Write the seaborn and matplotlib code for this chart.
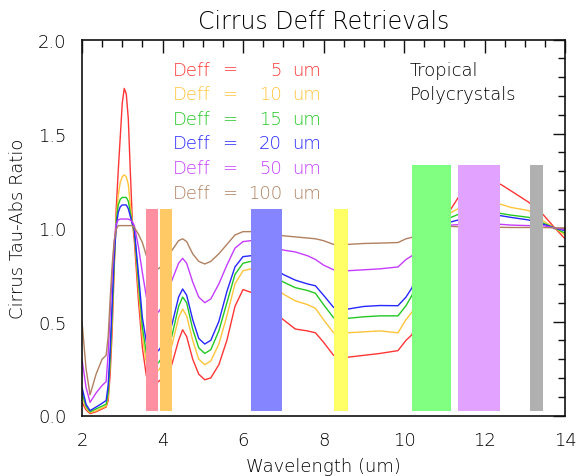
import numpy as np
import pandas as pd
import matplotlib
matplotlib.use("Agg")
import matplotlib.pyplot as plt
from matplotlib.ticker import MultipleLocator
import seaborn as sns

# ---------------- data ----------------
wavelength = [2.0, 2.1, 2.2, 2.35, 2.5, 2.6, 2.65, 2.7, 2.75, 2.8, 2.85, 2.9, 2.95, 3.0, 3.05,
              3.1, 3.15, 3.2, 3.25, 3.3, 3.4, 3.5, 3.6, 3.75, 3.9, 4.05, 4.23, 4.4, 4.5, 4.6,
              4.75, 4.9, 5.05, 5.2, 5.4, 5.6, 5.8, 6.0, 6.2, 6.6, 7.0, 7.3, 7.6, 7.8, 8.0,
              8.25, 8.6, 9.0, 9.4, 9.85, 10.05, 10.2, 10.5, 10.8, 11.17, 11.35, 11.8, 12.4,
              12.65, 13.1, 13.45, 13.75, 14.0]

deff_5 = [0.07, 0.03, 0.01, 0.02, 0.035, 0.045, 0.08, 0.22, 0.45, 0.78, 1.10, 1.30, 1.48, 1.66, 1.74,
          1.71, 1.58, 1.30, 1.04, 0.93, 0.62, 0.36, 0.21, 0.17, 0.18, 0.21, 0.27, 0.40, 0.456, 0.42,
          0.30, 0.22, 0.19, 0.20, 0.27, 0.40, 0.58, 0.67, 0.655, 0.58, 0.51, 0.46, 0.45, 0.44, 0.39,
          0.32, 0.31, 0.32, 0.33, 0.345, 0.40, 0.43, 0.70, 0.95, 1.10, 1.16, 1.21, 1.23,
          1.196, 1.134, 1.07, 0.997, 0.94]
deff_10 = [0.10, 0.04, 0.015, 0.025, 0.04, 0.05, 0.10, 0.28, 0.52, 0.80, 1.05, 1.17, 1.24, 1.27, 1.28,
           1.27, 1.23, 1.12, 1.02, 0.97, 0.68, 0.42, 0.28, 0.23, 0.24, 0.29, 0.37, 0.52, 0.566, 0.53,
           0.40, 0.30, 0.27, 0.29, 0.38, 0.53, 0.70, 0.77, 0.78, 0.72, 0.646, 0.61, 0.59, 0.57, 0.51,
           0.44, 0.44, 0.445, 0.45, 0.44, 0.51, 0.55, 0.80, 0.98, 1.08, 1.10, 1.12, 1.124,
           1.107, 1.09, 1.036, 0.997, 0.96]
deff_15 = [0.12, 0.05, 0.02, 0.035, 0.05, 0.06, 0.12, 0.30, 0.55, 0.82, 1.03, 1.12, 1.15, 1.16, 1.16,
           1.16, 1.14, 1.08, 1.02, 0.98, 0.72, 0.47, 0.33, 0.28, 0.28, 0.33, 0.42, 0.58, 0.63, 0.60,
           0.46, 0.36, 0.33, 0.35, 0.45, 0.60, 0.75, 0.81, 0.82, 0.77, 0.71, 0.68, 0.665, 0.65, 0.59,
           0.52, 0.517, 0.525, 0.53, 0.53, 0.584, 0.64, 0.85, 1.0, 1.054, 1.07, 1.075, 1.075,
           1.066, 1.054, 1.024, 0.997, 0.97]
deff_20 = [0.15, 0.06, 0.026, 0.045, 0.065, 0.08, 0.16, 0.35, 0.60, 0.85, 1.0, 1.08, 1.11, 1.12, 1.12,
           1.12, 1.10, 1.06, 1.02, 0.99, 0.76, 0.52, 0.39, 0.34, 0.345, 0.39, 0.48, 0.63, 0.673, 0.64,
           0.51, 0.41, 0.38, 0.40, 0.50, 0.66, 0.79, 0.845, 0.85, 0.81, 0.75, 0.72, 0.70, 0.69, 0.64,
           0.575, 0.566, 0.58, 0.585, 0.584, 0.63, 0.68, 0.88, 1.0, 1.03, 1.04, 1.06, 1.063,
           1.054, 1.04, 1.018, 0.997, 0.983]
deff_50 = [0.30, 0.15, 0.07, 0.12, 0.16, 0.18, 0.33, 0.55, 0.75, 0.92, 1.02, 1.04, 1.045, 1.045, 1.045,
           1.045, 1.045, 1.04, 1.03, 1.01, 0.90, 0.76, 0.63, 0.57, 0.55, 0.60, 0.717, 0.81, 0.836, 0.81,
           0.71, 0.63, 0.60, 0.62, 0.70, 0.80, 0.89, 0.925, 0.93, 0.91, 0.88, 0.87, 0.85, 0.83, 0.80,
           0.775, 0.77, 0.775, 0.78, 0.79, 0.83, 0.85, 0.96, 1.01, 1.013, 1.015, 1.017, 1.017,
           1.013, 1.01, 1.01, 0.997, 0.99]
deff_100 = [0.50, 0.25, 0.11, 0.22, 0.30, 0.32, 0.42, 0.62, 0.80, 0.93, 0.99, 1.01, 1.01, 1.01, 1.01,
            1.01, 1.01, 1.01, 1.01, 1.0, 0.965, 0.92, 0.85, 0.80, 0.78, 0.81, 0.877, 0.93, 0.94, 0.925,
            0.86, 0.82, 0.806, 0.82, 0.86, 0.91, 0.96, 0.978, 0.978, 0.97, 0.956, 0.95, 0.944, 0.94, 0.93,
            0.91, 0.91, 0.915, 0.917, 0.92, 0.94, 0.948, 0.985, 1.0, 1.006, 1.004, 1.002, 1.001,
            1.0, 1.0, 1.0, 0.998, 0.997]

deff_labels = ["5", "10", "15", "20", "50", "100"]
deff_series = [deff_5, deff_10, deff_15, deff_20, deff_50, deff_100]
line_colors = ["#FF3535", "#FFC43A", "#22C822", "#2626FF", "#C63CFF", "#B08060"]

# spectral bands (shaded bars)
band_lo = [3.58, 3.93, 6.20, 8.27, 10.20, 11.34, 13.12]
band_hi = [3.88, 4.23, 6.97, 8.62, 11.17, 12.39, 13.45]
band_top = [1.10, 1.10, 1.10, 1.10, 1.33, 1.33, 1.33]
band_bottom = 0.025
band_colors = ["#FF90A2", "#FFCA66", "#8585FF", "#FFFF66", "#80FF80", "#E2A2FF", "#B0B0B0"]

# ---------------- plot ----------------
sns.set_style("white")
plt.rcParams["font.family"] = ["DejaVu Sans"]
plt.rcParams["font.weight"] = 200
plt.rcParams["axes.titleweight"] = 200
plt.rcParams["axes.labelweight"] = 200

df = pd.concat([pd.DataFrame({"Wavelength": wavelength, "Ratio": s, "Deff": lab})
                for lab, s in zip(deff_labels, deff_series)], ignore_index=True)

fig = plt.figure(figsize=(5.78, 4.77), dpi=100)
ax = fig.add_axes([82 / 578, (477 - 416.5) / 477, (565 - 82) / 578, (416.5 - 40.5) / 477])

sns.lineplot(data=df, x="Wavelength", y="Ratio", hue="Deff", hue_order=deff_labels,
             palette=dict(zip(deff_labels, line_colors)), estimator=None, sort=False,
             linewidth=1.0, legend=False, ax=ax, zorder=2)

widths = [h - l for l, h in zip(band_lo, band_hi)]
heights = [t - band_bottom for t in band_top]
ax.bar(band_lo, heights, width=widths, bottom=band_bottom, align="edge",
       color=band_colors, linewidth=0, zorder=3)

ax.set_xlim(2, 14)
ax.set_ylim(0, 2.0)
ax.xaxis.set_major_locator(MultipleLocator(2))
ax.xaxis.set_minor_locator(MultipleLocator(0.5))
ax.yaxis.set_major_locator(MultipleLocator(0.5))
ax.yaxis.set_minor_locator(MultipleLocator(0.1))
ax.set_xticks([2, 4, 6, 8, 10, 12, 14])
ax.set_yticks([0.0, 0.5, 1.0, 1.5, 2.0])
ax.set_yticklabels(["0.0", "0.5", "1.0", "1.5", "2.0"])

ax.tick_params(which="both", direction="in", top=True, right=True, color="#111111", width=1.0,
               labelsize=13, labelcolor="#000000")
ax.tick_params(which="major", length=9, pad=11)
ax.tick_params(which="minor", length=5)
for sp in ax.spines.values():
    sp.set_color("#111111")
    sp.set_linewidth(1.2)

ax.set_xlabel("Wavelength (um)", fontsize=13, color="#000000", labelpad=6)
ax.set_ylabel("Cirrus Tau-Abs Ratio", fontsize=13, color="#000000", labelpad=8)
ax.set_title("Cirrus Deff Retrievals", fontsize=17, color="#000000", pad=8)

# legend as coloured text
row_y = [1.84, 1.709, 1.578, 1.447, 1.316, 1.185]
for lab, col, yv in zip(deff_labels, line_colors, row_y):
    ax.text(4.25, yv, "Deff", color=col, fontsize=13, ha="left", va="center")
    ax.text(5.67, yv, "=", color=col, fontsize=13, ha="center", va="center")
    ax.text(6.97, yv, lab, color=col, fontsize=13, ha="right", va="center")
    ax.text(7.22, yv, "um", color=col, fontsize=13, ha="left", va="center")

ax.text(10.15, 1.84, "Tropical", color="#000000", fontsize=13, ha="left", va="center")
ax.text(10.15, 1.709, "Polycrystals", color="#000000", fontsize=13, ha="left", va="center")

fig.savefig("out.png", dpi=100)
